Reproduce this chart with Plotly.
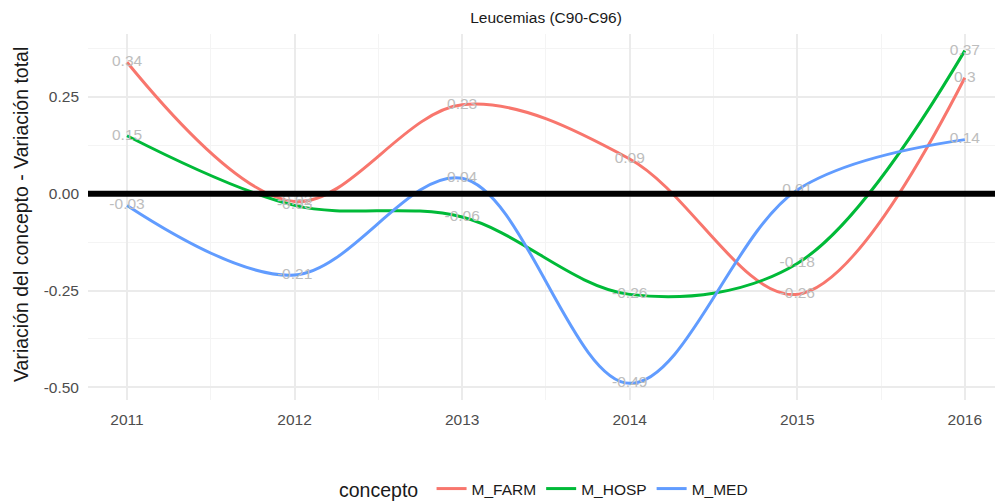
import plotly.graph_objects as go

years = [2011, 2012, 2013, 2014, 2015, 2016]
m_farm = [0.34, -0.02, 0.23, 0.09, -0.26, 0.30]
m_hosp = [0.15, -0.03, -0.06, -0.26, -0.18, 0.37]
m_med = [-0.03, -0.21, 0.04, -0.49, 0.01, 0.14]

series = [("M_FARM", m_farm, "#F8766D"),
          ("M_HOSP", m_hosp, "#00BA38"),
          ("M_MED", m_med, "#619CFF")]

x_range = [2010.767, 2016.18]
y_range = [-0.533, 0.413]
FONT = "Liberation Sans, Arial, Helvetica"

fig = go.Figure()

for name, vals, col in series:
    fig.add_trace(go.Scatter(
        x=years, y=vals, mode="lines", name=name,
        line=dict(color=col, width=3, shape="spline", smoothing=1.0),
    ))

for name, vals, col in series:
    fig.add_trace(go.Scatter(
        x=years, y=vals, mode="text", showlegend=False,
        text=[f"{v:g}" for v in vals], textposition="middle center",
        textfont=dict(family=FONT, size=15.5, color="#bdbdbd"),
        hoverinfo="skip",
    ))

# zero reference line (drawn on top)
fig.add_trace(go.Scatter(x=x_range, y=[0, 0], mode="lines",
                         line=dict(color="black", width=6),
                         showlegend=False, hoverinfo="skip"))

fig.update_layout(
    width=995, height=504,
    paper_bgcolor="white", plot_bgcolor="white",
    margin=dict(l=88, r=0, t=34, b=104, autoexpand=False),
    font=dict(family=FONT, color="#4d4d4d"),
    title=dict(text="Leucemias (C90-C96)", x=546 / 995, xanchor="center",
               y=1 - 17.5 / 504, yanchor="middle",
               font=dict(size=15.5, color="#1a1a1a")),
    xaxis=dict(range=x_range, tickmode="array", tickvals=years,
               ticktext=[str(y) for y in years], showline=False, zeroline=False,
               gridcolor="#ebebeb", gridwidth=1.5, ticks="", automargin=False,
               ticklabelstandoff=8,
               tickfont=dict(size=15.5, color="#4d4d4d"),
               minor=dict(dtick=0.5, tick0=2010.5, showgrid=True,
                          gridcolor="#f4f4f4", gridwidth=0.8)),
    yaxis=dict(range=y_range, tickmode="array",
               tickvals=[-0.5, -0.25, 0, 0.25],
               ticktext=["-0.50", "-0.25", "0.00", "0.25"],
               showline=False, zeroline=False, ticks="", automargin=False,
               ticklabelstandoff=8,
               gridcolor="#ebebeb", gridwidth=1.5,
               tickfont=dict(size=15.5, color="#4d4d4d"),
               minor=dict(dtick=0.25, tick0=0.125, showgrid=True,
                          gridcolor="#f4f4f4", gridwidth=0.8)),
    annotations=[dict(text="Variación del concepto - Variación total",
                      xref="paper", yref="paper",
                      x=-(88 - 21) / 907, y=(400 - 215) / 366,
                      xanchor="center", yanchor="middle", textangle=-90,
                      showarrow=False,
                      font=dict(family=FONT, size=19.5, color="#1a1a1a"))],
    legend=dict(orientation="h", x=545 / 995, xanchor="center", xref="container",
                y=1 - 490 / 504, yanchor="middle", yref="container",
                title=dict(text="concepto ", font=dict(size=19.5, color="#1a1a1a")),
                font=dict(size=15.5, color="#1a1a1a"), itemwidth=30,
                tracegroupgap=0),
)

fig.write_html("out.html", config={"displayModeBar": False},
               post_script="document.body.style.margin='0px';")
